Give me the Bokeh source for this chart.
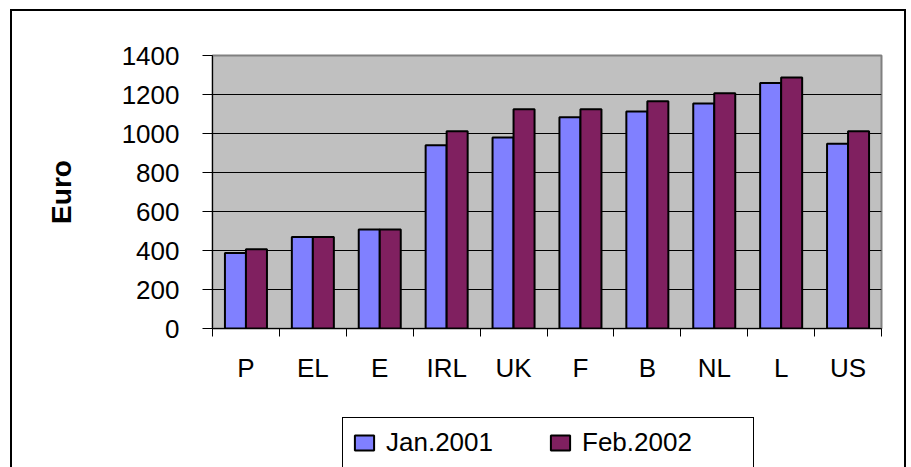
from bokeh.plotting import figure
from bokeh.layouts import column
from bokeh.models import (Range1d, FixedTicker, LinearAxis, Legend, LegendItem,
                          ColumnDataSource, InlineStyleSheet)
from bokeh.transform import dodge
from bokeh.embed import file_html
from bokeh.resources import INLINE

# ---- data ----
countries = ["P", "EL", "E", "IRL", "UK", "F", "B", "NL", "L", "US"]
jan_2001 = [387, 469, 508, 940, 980, 1083, 1113, 1154, 1259, 948]
feb_2002 = [407, 469, 508, 1011, 1124, 1124, 1165, 1206, 1287, 1011]
series_names = ["Jan.2001", "Feb.2002"]
y_ticks = [0, 200, 400, 600, 800, 1000, 1200, 1400]
y_label = "Euro"

FONT = "Liberation Sans"
BLUE = "#8080FF"
PLUM = "#802060"

n = len(countries)
centers = [i + 0.5 for i in range(n)]
edges = list(range(n + 1))

p = figure(x_range=Range1d(0, n), y_range=Range1d(y_ticks[0], y_ticks[-1]),
           width=911, height=400, output_backend="svg", toolbar_location=None,
           x_axis_location=None,
           min_border_left=212, min_border_right=30, min_border_top=55, min_border_bottom=72)

p.background_fill_color = "#C0C0C0"
p.border_fill_color = "white"
p.outline_line_color = "#808080"
p.outline_line_width = 2

# grid
p.xgrid.visible = False
p.ygrid.ticker = FixedTicker(ticks=y_ticks[1:-1])
p.ygrid.grid_line_color = "black"
p.ygrid.grid_line_width = 1

# y axis
ya = p.yaxis[0]
ya.ticker = FixedTicker(ticks=y_ticks)
ya.major_tick_out = 10
ya.major_tick_in = 0
ya.minor_tick_out = 0
ya.minor_tick_in = 0
ya.axis_line_color = "black"
ya.major_tick_line_color = "black"
ya.major_label_text_font = FONT
ya.major_label_text_font_size = "26px"
ya.major_label_text_color = "black"
ya.major_label_standoff = 23
ya.axis_label = y_label
ya.axis_label_text_font = FONT
ya.axis_label_text_font_style = "bold"
ya.axis_label_text_font_size = "28px"
ya.axis_label_text_color = "black"
ya.axis_label_standoff = 42

# x axis: line + ticks at category edges
edge_axis = LinearAxis(ticker=FixedTicker(ticks=edges),
                       major_tick_out=8, major_tick_in=0, minor_tick_out=0, minor_tick_in=0,
                       axis_line_color="black", major_tick_line_color="black",
                       major_label_overrides={t: "" for t in edges},
                       major_label_standoff=0, major_label_text_font_size="1px")
p.add_layout(edge_axis, "below")

# category labels at category centres
cat_axis = LinearAxis(ticker=FixedTicker(ticks=centers),
                      major_label_overrides={c: name for c, name in zip(centers, countries)},
                      major_tick_out=0, major_tick_in=0, minor_tick_out=0, minor_tick_in=0,
                      axis_line_color=None, major_tick_line_color=None,
                      major_label_text_font=FONT, major_label_text_font_size="26px",
                      major_label_text_color="black", major_label_standoff=16)
p.add_layout(cat_axis, "below")

# bars
src = ColumnDataSource(dict(x=centers, jan=jan_2001, feb=feb_2002))
bw = 0.314
bar_colors = [BLUE, PLUM]
r1 = p.vbar(x=dodge("x", -bw / 2), top="jan", width=bw, source=src,
            fill_color=bar_colors[0], line_color="black", line_width=2)
r2 = p.vbar(x=dodge("x", bw / 2), top="feb", width=bw, source=src,
            fill_color=bar_colors[1], line_color="black", line_width=2)

# ---- legend strip (second figure under the chart) ----
p2 = figure(width=911, height=67, x_range=Range1d(0, 1), y_range=Range1d(0, 1),
            output_backend="svg", toolbar_location=None,
            x_axis_location=None, y_axis_location=None, min_border=0)
p2.grid.visible = False
p2.outline_line_color = None
p2.background_fill_color = "white"
p2.border_fill_color = "white"
# legend swatches: same series and style, hidden renderers (only their legend glyphs show)
k1 = p2.vbar(x=dodge("x", -bw / 2), top="jan", width=bw, source=src,
             fill_color=bar_colors[0], line_color="black", line_width=2, visible=False)
k2 = p2.vbar(x=dodge("x", bw / 2), top="feb", width=bw, source=src,
             fill_color=bar_colors[1], line_color="black", line_width=2, visible=False)

legend = Legend(items=[LegendItem(label=series_names[0], renderers=[k1]),
                       LegendItem(label=series_names[1], renderers=[k2])],
                orientation="horizontal", location=(130, -1),
                border_line_color="black", border_line_width=1, border_line_alpha=1,
                background_fill_color="white", background_fill_alpha=1,
                inactive_fill_alpha=0,
                glyph_width=24, glyph_height=19, label_width=162, label_standoff=10,
                spacing=0, padding=9, margin=0,
                label_text_font=FONT, label_text_font_size="26px", label_text_color="black")
p2.add_layout(legend, "center")

# outer chart border (open at the bottom, as in the cropped original)
p.stylesheets = [InlineStyleSheet(css="""
:host::after {
  content: ""; position: absolute; left: 10px; top: 9px; width: 896px; height: 391px;
  box-sizing: border-box; border: 2px solid black; border-bottom: none;
  pointer-events: none; z-index: 10;
}
""")]
p2.stylesheets = [InlineStyleSheet(css="""
:host::after {
  content: ""; position: absolute; left: 10px; top: 0px; width: 896px; height: 67px;
  box-sizing: border-box; border-left: 2px solid black; border-right: 2px solid black;
  pointer-events: none; z-index: 10;
}
""")]

layout = column(p, p2, spacing=0)
open("out.html", "w").write(file_html(layout, INLINE))
